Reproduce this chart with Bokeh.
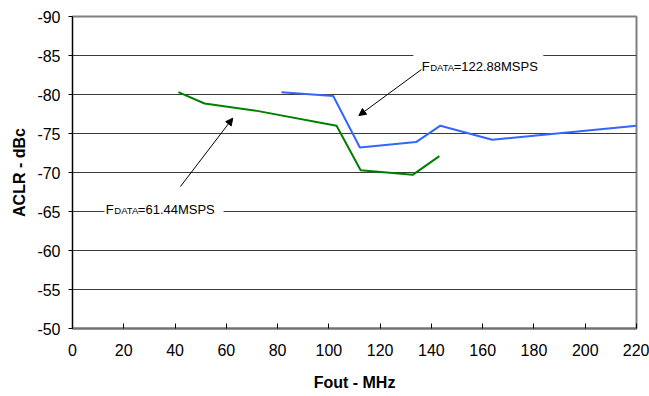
from bokeh.plotting import figure
from bokeh.models import Range1d, Label, Arrow, NormalHead, FixedTicker, PrintfTickFormatter
from bokeh.embed import file_html
from bokeh.resources import INLINE

# ---- data ----
green_x = [41.3, 51.5, 72.0, 103.0, 112.4, 132.7, 143.1]
green_y = [-80.3, -78.85, -77.9, -76.0, -70.3, -69.7, -72.1]
blue_x = [81.5, 101.7, 112.1, 134.0, 143.5, 163.7, 220.0]
blue_y = [-80.3, -79.8, -73.2, -73.9, -76.0, -74.2, -76.0]
x_ticks = [0, 20, 40, 60, 80, 100, 120, 140, 160, 180, 200, 220]
y_ticks = [-90, -85, -80, -75, -70, -65, -60, -55, -50]
label_main = "F"
label_sub = "DATA"
label_blue = "=122.88MSPS"
label_green = "=61.44MSPS"

FONT = "Liberation Sans"

p = figure(width=649, height=396, output_backend="svg", toolbar_location=None,
           x_range=Range1d(0, 220), y_range=Range1d(-50, -90),
           min_border_left=72, min_border_right=13, min_border_top=16,
           min_border_bottom=68, background_fill_color="white",
           border_fill_color="white")
p.outline_line_color = "#808080"
p.outline_line_width = 2

p.xgrid.visible = False
p.ygrid.ticker = FixedTicker(ticks=y_ticks)
p.ygrid.grid_line_color = "#3a3a3a"
p.ygrid.grid_line_width = 1

p.xaxis.ticker = FixedTicker(ticks=x_ticks)
p.yaxis.ticker = FixedTicker(ticks=y_ticks)
for ax in (p.xaxis, p.yaxis):
    ax.formatter = PrintfTickFormatter(format="%d")
    ax.minor_tick_line_color = None
    ax.major_label_text_font = FONT
    ax.major_label_text_font_size = "16px"
    ax.major_label_text_color = "black"
    ax.axis_label_text_font = FONT
    ax.axis_label_text_font_size = "16px"
    ax.axis_label_text_font_style = "bold"
    ax.axis_label_text_color = "black"
    ax.major_tick_line_color = "black"

p.xaxis.axis_label = "Fout - MHz"
p.xaxis.axis_line_color = "#707070"
p.xaxis.axis_line_width = 2
p.xaxis.major_tick_in = 5
p.xaxis.major_tick_out = 0
p.xaxis.major_label_standoff = 15
p.xaxis.axis_label_standoff = 15

p.yaxis.axis_label = "ACLR - dBc"
p.yaxis.axis_line_color = "black"
p.yaxis.axis_line_width = 1
p.yaxis.major_tick_in = 0
p.yaxis.major_tick_out = 4
p.yaxis.major_label_standoff = 8
p.yaxis.axis_label_standoff = 6

p.line(green_x, green_y, line_color="#008000", line_width=2)
p.line(blue_x, blue_y, line_color="#3366FF", line_width=2)

# white boxes behind the annotation texts (break the gridlines)
p.rect(x=[158.3, 35.7], y=[-84.45, -65.9], width=[130, 119], height=[20, 18],
       width_units="screen", height_units="screen",
       fill_color="white", line_color=None)

# annotation texts with subscript
def flabel(x, y, rest):
    p.add_layout(Label(x=x, y=y, text=label_main, text_font=FONT,
                       text_font_size="13px", text_baseline="alphabetic",
                       text_color="black"))
    p.add_layout(Label(x=x, y=y, x_offset=8.5, y_offset=-1, text=label_sub,
                       text_font=FONT, text_font_size="9.5px",
                       text_baseline="alphabetic", text_color="black"))
    p.add_layout(Label(x=x, y=y, x_offset=32, text=rest, text_font=FONT,
                       text_font_size="13px", text_baseline="alphabetic",
                       text_color="black"))

flabel(136.2, -83.6, label_blue)
flabel(13.0, -65.26, label_green)

p.add_layout(Arrow(end=NormalHead(size=7, fill_color="black", line_color="black"),
                   x_start=136.1, y_start=-83.2, x_end=111.7, y_end=-77.3,
                   line_color="black", line_width=1))
p.add_layout(Arrow(end=NormalHead(size=7, fill_color="black", line_color="black"),
                   x_start=42.1, y_start=-68.2, x_end=62.5, y_end=-76.96,
                   line_color="black", line_width=1))

open("out.html", "w").write(file_html(p, INLINE))
